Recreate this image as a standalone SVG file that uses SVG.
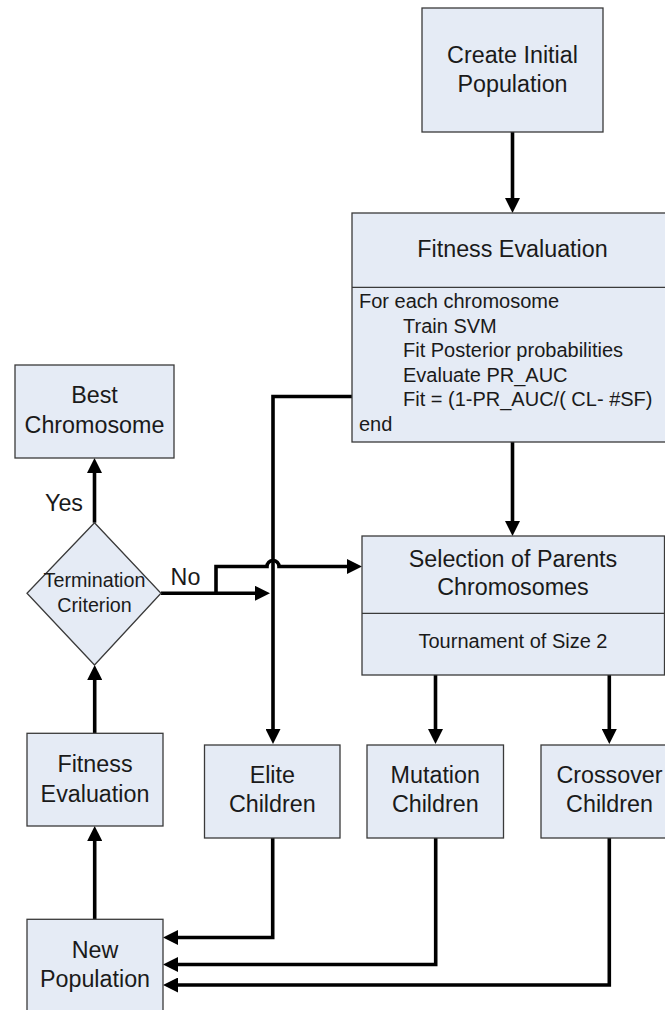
<svg xmlns="http://www.w3.org/2000/svg" width="665" height="1010" viewBox="0 0 665 1010">
  <style>
    .box { fill: #E5EBF5; stroke: #3a3a3a; stroke-width: 1.3; }
    .div { stroke: #3a3a3a; stroke-width: 1.3; fill: none; }
    .lbl { font-family: "Liberation Sans", Arial, sans-serif; font-size: 23.3px; fill: #1a1a1a; text-anchor: middle; }
    .sm { font-family: "Liberation Sans", Arial, sans-serif; font-size: 20px; fill: #1a1a1a; }
    .smc { text-anchor: middle; }
    .dia { font-size: 19.7px; }
    .conn { fill: none; stroke: #000; stroke-width: 3.6; stroke-linejoin: miter; }
  </style>
  <defs>
    <marker id="arrow" viewBox="0 0 15 15" markerWidth="15" markerHeight="15" markerUnits="userSpaceOnUse" refX="4" refY="7.5" orient="auto">
      <path d="M0,0 L15,7.5 L0,15 z" fill="#000"/>
    </marker>
  </defs>

  <rect width="665" height="1010" fill="#fff"/>

  <!-- connectors -->
  <g id="connectors" class="conn" marker-end="url(#arrow)">
    <path d="M512.5,132 V202"/>
    <path d="M512.5,442 V525"/>
    <path d="M352,396.5 H273 V733"/>
    <path d="M94.5,522.7 V469"/>
    <path d="M161,593.3 H259"/>
    <path d="M216,593.3 V566.5 H267 A6,6 0 0 1 279,566.5 H351"/>
    <path d="M435.5,675 V733"/>
    <path d="M609.3,675 V733"/>
    <path d="M94.7,733 V676"/>
    <path d="M94.7,919 V837"/>
    <path d="M272.7,838 V937.5 H174"/>
    <path d="M435.7,838 V964.5 H174"/>
    <path d="M609.3,838 V985 H174"/>
  </g>

  <g id="create-initial-population">
    <rect class="box" x="422" y="8" width="181" height="124"/>
    <text class="lbl" x="512.5" y="63">Create Initial</text>
    <text class="lbl" x="512.5" y="92">Population</text>
  </g>

  <g id="fitness-evaluation">
    <rect class="box" x="352" y="213" width="320" height="229"/>
    <line class="div" x1="352" y1="287.3" x2="672" y2="287.3"/>
    <text class="lbl" x="512.5" y="257">Fitness Evaluation</text>
    <text class="sm" x="359" y="308.3">For each chromosome</text>
    <text class="sm" x="403" y="332.8">Train SVM</text>
    <text class="sm" x="403" y="357.3">Fit Posterior probabilities</text>
    <text class="sm" x="403" y="381.8">Evaluate PR_AUC</text>
    <text class="sm" x="403" y="406.3">Fit = (1-PR_AUC/( CL- #SF)</text>
    <text class="sm" x="359" y="430.8">end</text>
  </g>

  <g id="best-chromosome">
    <rect class="box" x="15" y="365" width="159" height="93"/>
    <text class="lbl" x="94.5" y="403.3">Best</text>
    <text class="lbl" x="94.5" y="432.7">Chromosome</text>
  </g>

  <g id="termination-criterion">
    <polygon class="box" points="94.5,522.7 161,593.3 94.5,665 27,593.3"/>
    <text class="sm smc dia" x="94.5" y="586.7">Termination</text>
    <text class="sm smc dia" x="94.5" y="611.7">Criterion</text>
  </g>

  <g id="edge-labels">
    <text class="lbl" x="64" y="510.7">Yes</text>
    <text class="lbl" x="185.5" y="585">No</text>
  </g>

  <g id="selection-of-parents">
    <rect class="box" x="362" y="536" width="302.5" height="139"/>
    <line class="div" x1="362" y1="613.3" x2="664.5" y2="613.3"/>
    <text class="lbl" x="513" y="566.7">Selection of Parents</text>
    <text class="lbl" x="513" y="595">Chromosomes</text>
    <text class="sm smc" x="513" y="648.3">Tournament of Size 2</text>
  </g>

  <g id="fitness-evaluation-new">
    <rect class="box" x="27" y="733.3" width="136" height="92.7"/>
    <text class="lbl" x="95" y="771.7">Fitness</text>
    <text class="lbl" x="95" y="801.7">Evaluation</text>
  </g>

  <g id="elite-children">
    <rect class="box" x="204.5" y="745" width="135.5" height="93"/>
    <text class="lbl" x="272.3" y="783">Elite</text>
    <text class="lbl" x="272.3" y="811.7">Children</text>
  </g>

  <g id="mutation-children">
    <rect class="box" x="367" y="745" width="136.5" height="93"/>
    <text class="lbl" x="435.3" y="783">Mutation</text>
    <text class="lbl" x="435.3" y="811.7">Children</text>
  </g>

  <g id="crossover-children">
    <rect class="box" x="541" y="745" width="137" height="93"/>
    <text class="lbl" x="609.5" y="783">Crossover</text>
    <text class="lbl" x="609.5" y="811.7">Children</text>
  </g>

  <g id="new-population">
    <rect class="box" x="27" y="919.3" width="136" height="100"/>
    <text class="lbl" x="95" y="958.3">New</text>
    <text class="lbl" x="95" y="986.7">Population</text>
  </g>
</svg>
